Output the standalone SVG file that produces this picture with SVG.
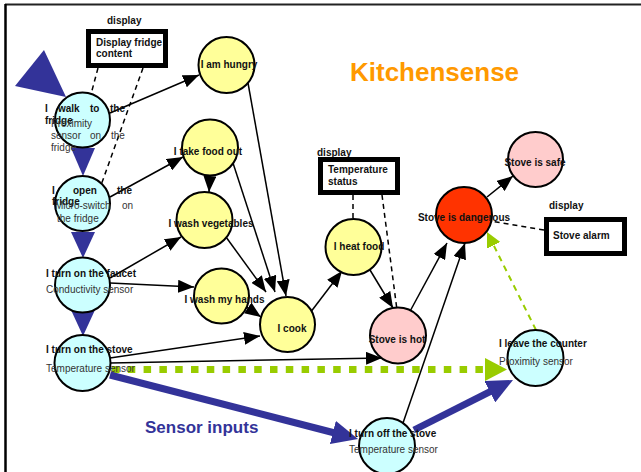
<svg xmlns="http://www.w3.org/2000/svg" width="641" height="472" viewBox="0 0 641 472">
<style>
text{font-family:"Liberation Sans",Arial,sans-serif;}
.b{font-weight:bold;font-size:10px;fill:#111;}
.s{font-size:10px;fill:#333;}
.c{stroke:#000;stroke-width:2;}
.cy{fill:#CCFFFF;}
.ye{fill:#FFFF99;}
.pk{fill:#FFCCCC;}
.rd{fill:#FF3300;}
.box{fill:#fff;stroke:#000;stroke-width:5;}
.ar{stroke:#000;stroke-width:1.5;fill:none;marker-end:url(#ah);}
.ds{stroke:#000;stroke-width:1.5;fill:none;stroke-dasharray:5 4;}
.bl{stroke:#333399;stroke-width:7;fill:none;marker-end:url(#bh);}
.bt{fill:#333399;}
</style>
<defs>
<marker id="ah" markerUnits="userSpaceOnUse" markerWidth="16" markerHeight="13" refX="16" refY="6.5" orient="auto"><path d="M0,0 L16,6.5 L0,13 z" fill="#000"/></marker>
<marker id="bh" markerUnits="userSpaceOnUse" markerWidth="26" markerHeight="24" refX="2" refY="12" orient="auto"><path d="M0,0 L26,12 L0,24 z" fill="#333399"/></marker>
<marker id="gb" markerUnits="userSpaceOnUse" markerWidth="22" markerHeight="23" refX="0" refY="11.5" orient="auto"><path d="M0,0 L22,11.5 L0,23 z" fill="#99CC00"/></marker>
<marker id="gs" markerUnits="userSpaceOnUse" markerWidth="15" markerHeight="15" refX="0" refY="7.5" orient="auto"><path d="M0,0 L15,7.5 L0,15 z" fill="#99CC00"/></marker>
</defs>
<rect width="641" height="472" fill="#fff"/>
<line x1="5" y1="4.5" x2="641" y2="4.5" stroke="#222" stroke-width="2"/>
<line x1="5.5" y1="4" x2="5.5" y2="472" stroke="#000" stroke-width="2.5"/>

<text x="350" y="81" font-size="26" font-weight="bold" fill="#FF9900" style="font-family:'Liberation Sans',Arial,sans-serif">Kitchensense</text>
<text x="145" y="433" font-size="17" font-weight="bold" fill="#333399" style="font-family:'Liberation Sans',Arial,sans-serif">Sensor inputs</text>

<g id="connectors">
<polygon class="bt" points="15,86 44,50 66,97"/>
<polygon class="bt" points="71,148 95,148 83,176"/>
<polygon class="bt" points="71,232 95,232 83,258"/>
<polygon class="bt" points="71,310 95,310 83,336"/>
<line class="ar" x1="110" y1="113" x2="199" y2="75"/>
<line class="ar" x1="110" y1="197" x2="183" y2="157"/>
<line class="ar" x1="110" y1="278" x2="181" y2="237"/>
<line class="ar" x1="110" y1="283" x2="194" y2="287"/>
<line class="ar" x1="110" y1="358" x2="260" y2="336"/>
<line class="ar" x1="110" y1="363" x2="382" y2="358"/>
<line class="ar" x1="248" y1="83" x2="286" y2="296"/>
<line class="ar" x1="233" y1="163" x2="275" y2="292"/>
<line class="ar" x1="226" y1="237" x2="266" y2="292"/>
<line class="ar" x1="245" y1="306" x2="261" y2="317"/>
<line class="ar" x1="210" y1="175" x2="209" y2="192"/>
<line class="ar" x1="310" y1="313" x2="342" y2="271"/>
<line class="ar" x1="370" y1="270" x2="393" y2="308"/>
<line class="ar" x1="408" y1="315" x2="447" y2="243"/>
<line class="ar" x1="403" y1="423" x2="465" y2="243"/>
<line class="ar" x1="487" y1="197" x2="513" y2="176"/>
<line class="ds" x1="98" y1="68" x2="90" y2="98"/>
<line class="ds" x1="143" y1="68" x2="100" y2="188"/>
<line class="ds" x1="353" y1="195" x2="353" y2="219"/>
<line class="ds" x1="382" y1="195" x2="397" y2="310"/>
<line class="ds" x1="544" y1="230" x2="490" y2="221"/>
<line x1="112" y1="369.5" x2="485" y2="369.5" stroke="#99CC00" stroke-width="7" stroke-dasharray="7.5 8.3" marker-end="url(#gb)"/>
<line x1="536" y1="330" x2="493.7" y2="245.4" stroke="#99CC00" stroke-width="2" stroke-dasharray="6 5" marker-end="url(#gs)"/>
<line class="bl" x1="110" y1="375" x2="334.8" y2="433"/>
<line class="bl" x1="414" y1="430" x2="491.6" y2="390.8"/>
</g>

<g id="display-fridge">
<text class="b" x="107" y="24">display</text>
<rect class="box" x="88.5" y="31.5" width="77" height="34"/>
<text class="b" x="96" y="46">Display fridge</text>
<text class="b" x="96" y="57">content</text>
</g>
<g id="display-temp">
<text class="b" x="317" y="156">display</text>
<rect class="box" x="320.5" y="159.5" width="77" height="33"/>
<text class="b" x="328" y="173">Temperature</text>
<text class="b" x="328" y="185">status</text>
</g>
<g id="display-alarm">
<text class="b" x="549" y="209">display</text>
<rect class="box" x="546.5" y="219.5" width="78" height="34"/>
<text class="b" x="553" y="239">Stove alarm</text>
</g>

<g id="walk">
<circle class="c cy" cx="82.5" cy="120" r="27.5"/>
<text class="b"><tspan x="45" y="112">I</tspan><tspan x="58" y="112">walk</tspan><tspan x="90" y="112">to</tspan><tspan x="110" y="112">the</tspan><tspan x="45" y="124">fridge</tspan></text>
<text class="s"><tspan x="51" y="127">Proximity</tspan><tspan x="51" y="139">sensor</tspan><tspan x="90" y="139">on</tspan><tspan x="111" y="139">the</tspan><tspan x="51" y="151">fridge</tspan></text>
</g>
<g id="open">
<circle class="c cy" cx="82.5" cy="203.5" r="27.5"/>
<text class="b"><tspan x="52" y="194">I</tspan><tspan x="73" y="194">open</tspan><tspan x="117" y="194">the</tspan><tspan x="52" y="205">fridge</tspan></text>
<text class="s"><tspan x="55" y="209">Micro-switch</tspan><tspan x="122" y="209">on</tspan><tspan x="57" y="222">the fridge</tspan></text>
</g>
<g id="faucet">
<circle class="c cy" cx="82.5" cy="285" r="27.5"/>
<text class="b" x="46" y="277">I turn on the faucet</text>
<text class="s" x="46" y="293">Conductivity sensor</text>
</g>
<g id="stove-on">
<circle class="c cy" cx="82.5" cy="363" r="28"/>
<text class="b" x="46" y="353">I turn on the stove</text>
<text class="s" x="46" y="372">Temperature sensor</text>
</g>
<g id="hungry">
<circle class="c ye" cx="226.5" cy="65" r="28"/>
<text class="b" x="229" y="68" text-anchor="middle">I am hungry</text>
</g>
<g id="takefood">
<circle class="c ye" cx="210" cy="147.5" r="28"/>
<text class="b" x="208" y="155" text-anchor="middle">I take food out</text>
</g>
<g id="washveg">
<circle class="c ye" cx="204.5" cy="220" r="28"/>
<text class="b" x="211" y="227" text-anchor="middle">I wash vegetables</text>
</g>
<g id="washhands">
<circle class="c ye" cx="221.5" cy="296" r="27.5"/>
<text class="b" x="224.5" y="303" text-anchor="middle">I wash my hands</text>
</g>
<g id="cook">
<circle class="c ye" cx="287.5" cy="324.5" r="27.5"/>
<text class="b" x="292" y="332" text-anchor="middle">I cook</text>
</g>
<g id="heat">
<circle class="c ye" cx="353.5" cy="247" r="28"/>
<text class="b" x="359" y="250" text-anchor="middle">I heat food</text>
</g>
<g id="hot">
<circle class="c pk" cx="398" cy="335.5" r="28"/>
<text class="b" x="397" y="343" text-anchor="middle">Stove is hot</text>
</g>
<g id="dangerous">
<circle class="c rd" cx="464" cy="215" r="28"/>
<text class="b" x="464" y="221" text-anchor="middle">Stove is dangerous</text>
</g>
<g id="safe">
<circle class="c pk" cx="535.5" cy="159.5" r="27.5"/>
<text class="b" x="535" y="166" text-anchor="middle">Stove is safe</text>
</g>
<g id="leave">
<circle class="c cy" cx="535.5" cy="358" r="28"/>
<text class="b" x="499" y="347">I leave the counter</text>
<text class="s" x="499" y="365">Proximity sensor</text>
</g>
<g id="stove-off">
<circle class="c cy" cx="387" cy="446" r="28"/>
<text class="b" x="349" y="437">I turn off the stove</text>
<text class="s" x="349" y="453">Temperature sensor</text>
</g>
</svg>
